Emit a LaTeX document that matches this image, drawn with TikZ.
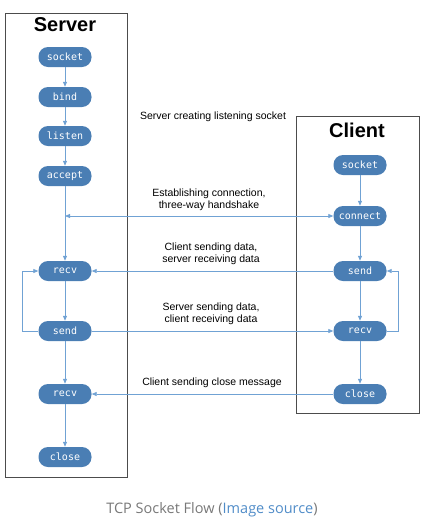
\documentclass[tikz,border=0pt]{standalone}
\usepackage{fontspec}
\setmainfont{Liberation Sans}
\newfontfamily\callfont{DejaVu Sans Mono}
\newfontfamily\capfont{Open Sans}
\usepackage{tikz}
\usetikzlibrary{arrows.meta, positioning}

\definecolor{sockblue}{RGB}{74,126,180}
\definecolor{flowblue}{RGB}{112,162,212}
\definecolor{capgray}{RGB}{120,120,120}
\definecolor{linkblue}{RGB}{80,140,200}

\begin{document}
\begin{tikzpicture}[x=1pt, y=-1pt,
  >={Triangle[length=5pt, width=4pt]},
  call/.style={rectangle, rounded corners=9.5pt, fill=sockblue, text=white,
    font=\callfont\fontsize{10}{11}\selectfont, minimum width=53pt,
    minimum height=20pt, inner sep=0pt},
  flow/.style={draw=flowblue, line width=0.8pt, ->},
  msg/.style={font=\fontsize{10.5}{12}\selectfont, align=center},
  side/.style={draw=black!70, line width=0.6pt},
  title/.style={font=\bfseries\fontsize{20}{22}\selectfont}]

  \useasboundingbox (0,0) rectangle (424,523);

  % --- Frames ---------------------------------------------------------
  \draw[side] (5,13) rectangle (127,477);
  \draw[side] (296,116) rectangle (419,413);
  \node[title] (stitle) at (65,25) {Server};
  \node[title] (ctitle) at (357,130) {Client};

  % --- Server calls ---------------------------------------------------
  \foreach \n/\t/\y in {ssocket/socket/57, sbind/bind/97, slisten/listen/136,
      saccept/accept/176, srecv/recv/271, ssend/send/331, srecvb/recv/394,
      sclose/close/457}
    \node[call] (\n) at (65,\y) {\t};

  % --- Client calls ---------------------------------------------------
  \foreach \n/\t/\y in {csocket/socket/165, cconnect/connect/216,
      csend/send/271, crecv/recv/331, cclose/close/394}
    \node[call] (\n) at (360,\y) {\t};

  % Vertical flow
  \foreach \a/\b in {ssocket/sbind, sbind/slisten, slisten/saccept,
      saccept/srecv, srecv/ssend, ssend/srecvb, srecvb/sclose,
      csocket/cconnect, cconnect/csend, csend/crecv, crecv/cclose}
    \draw[flow] (\a) -- (\b);

  % Loops
  \draw[flow] (ssend.west) -- ++(-16,0) |- (srecv.west);
  \draw[flow] (crecv.east) -- ++(12,0) |- (csend.east);

  % Messages between the two sides
  \draw[flow, <->] (saccept |- cconnect) -- (cconnect);
  \draw[flow] (csend) -- (srecv);
  \draw[flow] (ssend) -- (crecv);
  \draw[flow] (cclose) -- (srecvb);

  % Labels
  \node[msg] (mlisten) at (213,117) {Server creating listening socket};
  \node[msg] (mconnect) at (209,200) {Establishing connection,\\three-way handshake};
  \node[msg] (mcsend) at (211,254) {Client sending data,\\server receiving data};
  \node[msg] (mssend) at (211,314) {Server sending data,\\client receiving data};
  \node[msg] (mclose) at (212,383) {Client sending close message};

  % Caption
  \node (caption) at (212,510) {\capfont\fontsize{14.5}{16}\selectfont
    \textcolor{capgray}{TCP Socket Flow (}\textcolor{linkblue}{Image source}\textcolor{capgray}{)}};
\end{tikzpicture}
\end{document}
